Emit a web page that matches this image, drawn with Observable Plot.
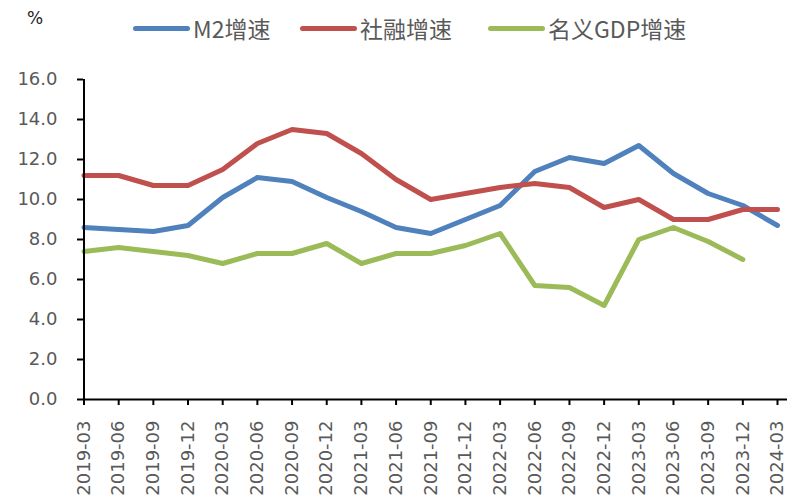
<!DOCTYPE html>
<html>
<head>
<meta charset="utf-8">
<script src="https://cdn.jsdelivr.net/npm/d3@7"></script>
<script src="https://cdn.jsdelivr.net/npm/@observablehq/plot@0.6"></script>
<style>
  html, body { margin: 0; padding: 0; background: #fff; }
  #wrap { position: relative; width: 794px; height: 497px; overflow: hidden; font-family: "DejaVu Sans", sans-serif; }
  #chart svg { display: block; }
  .legend { position: absolute; top: 10px; left: 0; height: 36px; }
  .item { position: absolute; top: 0; height: 36px; display: flex; align-items: center; font-family: "Noto Sans CJK SC", sans-serif; font-size: 23px; color: #595959; white-space: nowrap; }
  .sw { width: 57px; height: 5px; border-radius: 3px; margin-right: 3px; }
  .unit { position: absolute; left: 27px; top: 8px; font-family: "DejaVu Sans", sans-serif; font-size: 17px; color: #222; }
  [aria-label="y-axis tick label"], [aria-label="x-axis tick label"] { fill: #595959; }
  [aria-label="y-axis tick"], [aria-label="x-axis tick"] { stroke: #000; stroke-width: 2px; }
</style>
</head>
<body>
<div id="wrap">
  <div id="chart"></div>
  <div class="unit">%</div>
  <div class="legend" id="legend"></div>
</div>
<script>
const categories = ["2019-03","2019-06","2019-09","2019-12","2020-03","2020-06","2020-09","2020-12","2021-03","2021-06","2021-09","2021-12","2022-03","2022-06","2022-09","2022-12","2023-03","2023-06","2023-09","2023-12","2024-03"];
const m2 =  [8.6, 8.5, 8.4, 8.7, 10.1, 11.1, 10.9, 10.1, 9.4, 8.6, 8.3, 9.0, 9.7, 11.4, 12.1, 11.8, 12.7, 11.3, 10.3, 9.7, 8.7];
const tsf = [11.2, 11.2, 10.7, 10.7, 11.5, 12.8, 13.5, 13.3, 12.3, 11.0, 10.0, 10.3, 10.6, 10.8, 10.6, 9.6, 10.0, 9.0, 9.0, 9.5, 9.5];
const gdp = [7.4, 7.6, 7.4, 7.2, 6.8, 7.3, 7.3, 7.8, 6.8, 7.3, 7.3, 7.7, 8.3, 5.7, 5.6, 4.7, 8.0, 8.6, 7.9, 7.0, null];
const seriesNames = ["M2增速", "社融增速", "名义GDP增速"];
const seriesColors = ["#4F81BD", "#C0504D", "#9BBB59"];
const yTicks = [0, 2, 4, 6, 8, 10, 12, 14, 16];
const legendX = [133, 300, 488];

const seriesValues = [m2, tsf, gdp];
const lineMarks = seriesValues.map((vals, i) =>
  Plot.line(categories.map((c, j) => ({date: c, value: vals[j]})), {
    x: "date", y: "value", stroke: seriesColors[i], strokeWidth: 5,
    strokeLinejoin: "round", strokeLinecap: "round"
  })
);

const plot = Plot.plot({
  width: 794,
  height: 497,
  marginTop: 79,
  marginBottom: 98,
  marginLeft: 83,
  marginRight: 7,
  style: {fontFamily: "DejaVu Sans, sans-serif", fontSize: "18px", background: "#fff", overflow: "visible"},
  x: {type: "point", domain: categories, range: [83.5, 777], padding: 0, round: false},
  y: {domain: [0, 16], range: [399, 79]},
  marks: [
    Plot.axisY({ticks: yTicks, tickSize: 6, tickPadding: 20, tickFormat: d => d.toFixed(1), label: null, fontSize: 18}),
    Plot.axisX({tickRotate: -90, tickSize: 6, tickPadding: 15, label: null, fontSize: 18}),
    ...lineMarks,
    Plot.ruleY([0], {stroke: "#000", strokeWidth: 2}),
    Plot.ruleX([categories[0]], {y1: 0, y2: 16, stroke: "#000", strokeWidth: 2})
  ]
});
document.getElementById("chart").appendChild(plot);

const legend = document.getElementById("legend");
seriesNames.forEach((name, i) => {
  const item = document.createElement("div");
  item.className = "item";
  item.style.left = legendX[i] + "px";
  const sw = document.createElement("div");
  sw.className = "sw";
  sw.style.background = seriesColors[i];
  const t = document.createElement("span");
  t.textContent = name;
  item.appendChild(sw);
  item.appendChild(t);
  legend.appendChild(item);
});
</script>
</body>
</html>
